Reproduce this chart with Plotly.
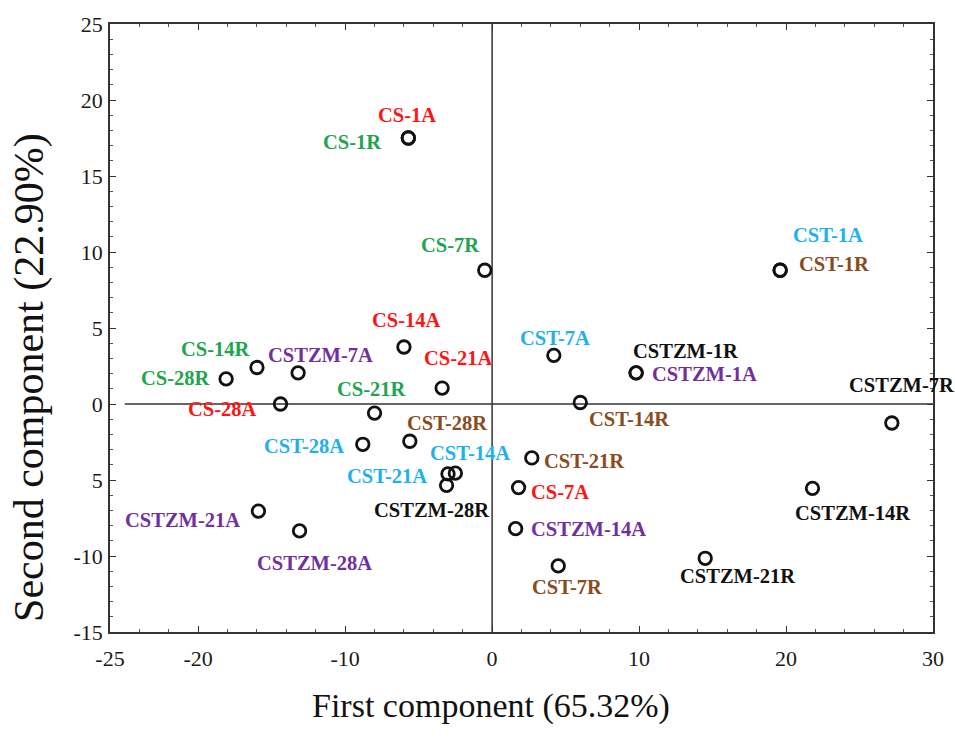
import plotly.graph_objects as go

# ---- data ----
samples = ["CS-1A", "CS-7A", "CS-14A", "CS-21A", "CS-28A",
           "CS-1R", "CS-7R", "CS-14R", "CS-21R", "CS-28R",
           "CST-1A", "CST-7A", "CST-14A", "CST-21A", "CST-28A",
           "CST-1R", "CST-7R", "CST-14R", "CST-21R", "CST-28R",
           "CSTZM-1A", "CSTZM-7A", "CSTZM-14A", "CSTZM-21A", "CSTZM-28A",
           "CSTZM-1R", "CSTZM-7R", "CSTZM-14R", "CSTZM-21R", "CSTZM-28R"]

first_component = [-5.7, 1.8, -6.0, -3.4, -14.4,
                   -5.7, -0.5, -16.0, -8.0, -18.1,
                   19.6, 4.2, -2.5, -3.0, -8.8,
                   19.6, 4.5, 6.0, 2.7, -5.6,
                   9.8, -13.2, 1.6, -15.9, -13.1,
                   9.8, 27.2, 21.8, 14.5, -3.1]

second_component = [17.5, -5.5, 3.75, 1.05, 0.0,
                    17.5, 8.8, 2.4, -0.6, 1.65,
                    8.8, 3.2, -4.55, -4.6, -2.65,
                    8.8, -10.65, 0.1, -3.55, -2.45,
                    2.05, 2.05, -8.2, -7.05, -8.35,
                    2.05, -1.25, -5.55, -10.15, -5.35]

x_tick_vals = [-26, -20, -10, 0, 10, 20, 30]
x_tick_text = ["-25", "-20", "-10", "0", "10", "20", "30"]
y_tick_vals = [-15, -10, -5, 0, 5, 10, 15, 20, 25]
y_tick_text = ["-15", "-10", "5", "0", "5", "10", "15", "20", "25"]

x_title = "First component (65.32%)"
y_title = "Second component (22.90%)"

# ---- styles (label colours and pixel offsets of labels from points) ----
group_colors = {
    ("CS", "A"): "#ff1414",
    ("CS", "R"): "#1fa54f",
    ("CST", "A"): "#1fb1ec",
    ("CST", "R"): "#8a4b1e",
    ("CSTZM", "A"): "#7030a0",
    ("CSTZM", "R"): "#111111",
}

label_offsets = [(-1, -23), (41, 4), (3, -27), (16, -30), (-58, 5),
                 (-56, 4), (-35, -25), (-41, -19), (-3, -24), (-51, -1),
                 (48, -35), (1, -17), (15, -20), (-61, 2), (-59, 2),
                 (54, -6), (9, 21), (49, 17), (52, 3), (37, -18),
                 (68, 1), (22, -18), (73, 0), (-76, 9), (15, 32),
                 (49, -22), (10, -38), (40, 25), (32, 18), (-15, 25)]

FONT = "Liberation Serif, Times New Roman, serif"

fig = go.Figure()

# reference lines through the origin
fig.add_shape(type="line", x0=0, x1=0, y0=-15, y1=25, xref="x", yref="y",
              line=dict(color="#333333", width=1.5), layer="below")
fig.add_shape(type="line", x0=-25, x1=30, y0=0, y1=0, xref="x", yref="y",
              line=dict(color="#333333", width=1.5), layer="below")

fig.add_trace(go.Scatter(
    x=first_component, y=second_component, mode="markers",
    marker=dict(symbol="circle-open", size=12.5, color="#111111",
                line=dict(width=2.8, color="#111111")),
    text=samples, hoverinfo="text", showlegend=False,
))

for name, xv, yv, (dx, dy) in zip(samples, first_component, second_component, label_offsets):
    grp, typ = name.split("-")[0], name[-1]
    fig.add_annotation(
        x=xv, y=yv, xref="x", yref="y", text="<b>" + name + "</b>",
        showarrow=False, xshift=dx, yshift=-dy,
        xanchor="center", yanchor="middle",
        font=dict(family=FONT, size=20.5, color=group_colors[(grp, typ)]),
    )

# axis titles
fig.add_annotation(x=0.463, y=-0.1217, xref="paper", yref="paper", text=x_title,
                   showarrow=False, xanchor="center", yanchor="middle",
                   font=dict(family=FONT, size=34, color="#111111"))
fig.add_annotation(x=-0.0972, y=0.4178, xref="paper", yref="paper", text=y_title,
                   showarrow=False, xanchor="center", yanchor="middle", textangle=-90,
                   font=dict(family=FONT, size=42, color="#111111"))

axis_common = dict(
    showline=True, linecolor="#333333", linewidth=1.5, mirror="ticks",
    ticks="inside", ticklen=6, tickwidth=1.2, tickcolor="#333333",
    showgrid=False, zeroline=False,
    tickfont=dict(family=FONT, size=22, color="#1a1a1a"),
)

fig.update_xaxes(
    range=[-26, 30], tickmode="array", tickvals=x_tick_vals, ticktext=x_tick_text,
    minor=dict(ticks="inside", ticklen=3, tickwidth=1, tickcolor="#555555", dtick=2, tick0=0),
    ticklabelstandoff=6,
    **axis_common,
)
fig.update_yaxes(
    range=[-15, 25], tickmode="array", tickvals=y_tick_vals, ticktext=y_tick_text,
    minor=dict(ticks="inside", ticklen=3, tickwidth=1, tickcolor="#555555", dtick=1, tick0=0),
    ticklabelstandoff=1,
    **axis_common,
)

fig.update_layout(
    width=955, height=738,
    margin=dict(l=110, r=22, t=24, b=106),
    paper_bgcolor="white", plot_bgcolor="white",
    font=dict(family=FONT),
)

fig.write_html("out.html")
